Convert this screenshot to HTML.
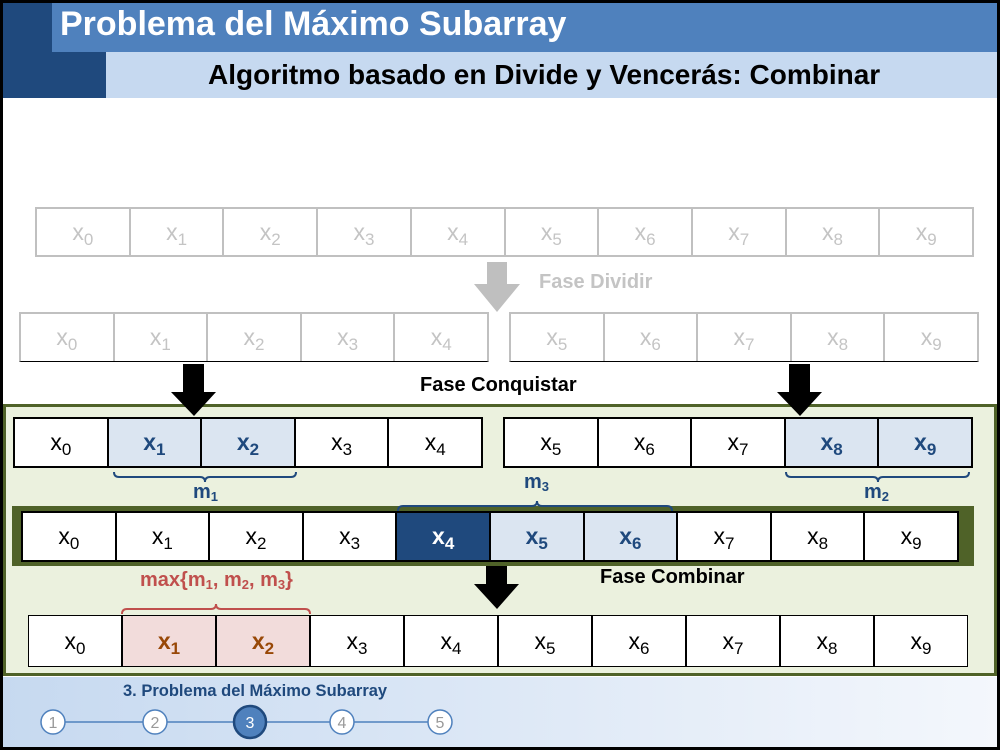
<!DOCTYPE html>
<html><head><meta charset="utf-8"><style>
*{margin:0;padding:0;box-sizing:border-box}
body{width:1000px;height:750px;position:relative;background:#fff;font-family:"Liberation Sans",sans-serif;overflow:hidden}
.a{position:absolute}
.row{position:absolute;display:flex}
.row div{flex:1;display:block;text-align:center;font-size:23px;border-right:1px solid #000;background:#fff;color:#000}
.row div:last-child{border-right:none}
.row sub{font-size:17px;vertical-align:-5px;line-height:0}
.g{border:2px solid #c0c0c0}
.g div{color:#c4c4c4;border-right:2px solid #c0c0c0}
.k{border:2px solid #000}
.k div{border-right:2px solid #000}
.lb{background:#dbe5f1!important;color:#1f497d!important;font-weight:bold}
.db{background:#1f497d!important;color:#fff!important;font-weight:bold}
.pk{background:#f2dcdb!important;color:#984807!important;font-weight:bold}
.lbl{position:absolute;font-weight:bold;font-size:20px;white-space:nowrap}
.lbl sub{font-size:13px;vertical-align:-3px;line-height:0}
</style></head><body>
<div class="a" style="left:0;top:0;width:1000px;height:750px;border:3px solid #000;z-index:10;pointer-events:none"></div>
<div class="a" style="left:0;top:0;width:106px;height:98px;background:#1f497d"></div>
<div class="a" style="left:52px;top:3px;width:948px;height:49px;background:#4f81bd"></div>
<div class="a" style="left:106px;top:52px;width:894px;height:46px;background:#c6d9f0"></div>
<div class="lbl" style="left:60px;top:5px;font-size:34px;color:#fff">Problema del Máximo Subarray</div>
<div class="lbl" style="left:208px;top:59px;font-size:28px;color:#000">Algoritmo basado en Divide y Vencerás: Combinar</div>

<div class="row g" style="left:35px;top:207px;width:939px;height:50px;line-height:46px">
<div>x<sub>0</sub></div><div>x<sub>1</sub></div><div>x<sub>2</sub></div><div>x<sub>3</sub></div><div>x<sub>4</sub></div><div>x<sub>5</sub></div><div>x<sub>6</sub></div><div>x<sub>7</sub></div><div>x<sub>8</sub></div><div>x<sub>9</sub></div></div>
<svg class="a" style="left:470px;top:262px" width="60" height="52"><polygon points="17,0 37,0 37,22 50,22 27,50 4,22 17,22" fill="#bfbfbf"/></svg>
<div class="lbl" style="left:539px;top:271px;color:#c4c4c4">Fase Dividir</div>
<div class="row g" style="left:19px;top:312px;width:470px;height:50px;border-bottom:1px solid #000;line-height:47px">
<div>x<sub>0</sub></div><div>x<sub>1</sub></div><div>x<sub>2</sub></div><div>x<sub>3</sub></div><div>x<sub>4</sub></div></div>
<div class="row g" style="left:509px;top:312px;width:470px;height:50px;border-bottom:1px solid #000;line-height:47px">
<div>x<sub>5</sub></div><div>x<sub>6</sub></div><div>x<sub>7</sub></div><div>x<sub>8</sub></div><div>x<sub>9</sub></div></div>
<div class="lbl" style="left:420px;top:374px;color:#000">Fase Conquistar</div>

<div class="a" style="left:3px;top:404px;width:994px;height:272px;background:#ebf1de;border:3px solid #4f6228"></div>
<svg class="a" style="left:168px;top:364px;z-index:2" width="52" height="54"><polygon points="15,0 36,0 36,28 48,28 26,52 3,28 15,28" fill="#000"/></svg>
<svg class="a" style="left:774px;top:364px;z-index:2" width="52" height="54"><polygon points="15,0 36,0 36,28 48,28 26,52 3,28 15,28" fill="#000"/></svg>

<div class="row k" style="left:13px;top:417px;width:470px;height:51px;line-height:47px">
<div>x<sub>0</sub></div><div class="lb">x<sub>1</sub></div><div class="lb">x<sub>2</sub></div><div>x<sub>3</sub></div><div>x<sub>4</sub></div></div>
<div class="row k" style="left:503px;top:417px;width:470px;height:51px;line-height:47px">
<div>x<sub>5</sub></div><div>x<sub>6</sub></div><div>x<sub>7</sub></div><div class="lb">x<sub>8</sub></div><div class="lb">x<sub>9</sub></div></div>

<div class="lbl" style="left:193px;top:481px;color:#1f497d">m<sub>1</sub></div>
<div class="lbl" style="left:864px;top:481px;color:#1f497d">m<sub>2</sub></div>
<div class="lbl" style="left:524px;top:471px;color:#1f497d">m<sub>3</sub></div>

<div class="a" style="left:12px;top:506px;width:962px;height:60px;background:#4f6228"></div>
<div class="row k" style="left:21px;top:511px;width:938px;height:51px;line-height:47px">
<div>x<sub>0</sub></div><div>x<sub>1</sub></div><div>x<sub>2</sub></div><div>x<sub>3</sub></div><div class="db">x<sub>4</sub></div><div class="lb">x<sub>5</sub></div><div class="lb">x<sub>6</sub></div><div>x<sub>7</sub></div><div>x<sub>8</sub></div><div>x<sub>9</sub></div></div>
<svg class="a" style="left:471px;top:566px" width="52" height="46"><polygon points="15,0 36,0 36,18 48,18 26,43 3,18 15,18" fill="#000"/></svg>
<div class="lbl" style="left:600px;top:566px;color:#000">Fase Combinar</div>
<div class="lbl" style="left:140px;top:569px;color:#c0504d">max{m<sub>1</sub>, m<sub>2</sub>, m<sub>3</sub>}</div>

<div class="row k" style="left:28px;top:615px;width:940px;height:52px;border-width:1px;line-height:50px">
<div>x<sub>0</sub></div><div class="pk">x<sub>1</sub></div><div class="pk">x<sub>2</sub></div><div>x<sub>3</sub></div><div>x<sub>4</sub></div><div>x<sub>5</sub></div><div>x<sub>6</sub></div><div>x<sub>7</sub></div><div>x<sub>8</sub></div><div>x<sub>9</sub></div></div>

<svg class="a" style="left:0;top:0;z-index:5" width="1000" height="750">
<path d="M114,472 q0,5 5,5 H200 q5,0 5,5 q0,-5 5,-5 H291 q5,0 5,-5" fill="none" stroke="#1f497d" stroke-width="2"/>
<path d="M786,472 q0,5 5,5 H873 q5,0 5,5 q0,-5 5,-5 H964 q5,0 5,-5" fill="none" stroke="#1f497d" stroke-width="2"/>
<path d="M398,511 q0,-5 5,-5 H532 q5,0 5,-5 q0,5 5,5 H667 q5,0 5,5" fill="none" stroke="#1f497d" stroke-width="2"/>
<path d="M122,614 q0,-5 5,-5 H211 q5,0 5,-5 q0,5 5,5 H305 q5,0 5,5" fill="none" stroke="#c0504d" stroke-width="2"/>
</svg>

<div class="a" style="left:0;top:677px;width:1000px;height:73px;background:linear-gradient(90deg,#c6d9f0,#f4f7fc)"></div>
<div class="lbl" style="left:123px;top:682px;font-size:16.5px;color:#1f497d">3. Problema del Máximo Subarray</div>
<svg class="a" style="left:0;top:700px" width="500" height="45">
<line x1="53" y1="22" x2="440" y2="22" stroke="#4f81bd" stroke-width="1.5"/>
<g fill="#fff" stroke="#4f81bd" stroke-width="1.5"><circle cx="53" cy="22" r="12"/><circle cx="155" cy="22" r="12"/><circle cx="342" cy="22" r="12"/><circle cx="440" cy="22" r="12"/></g>
<circle cx="250" cy="22" r="16" fill="#4f81bd" stroke="#1f497d" stroke-width="2.5"/>
<g font-family="Liberation Sans,sans-serif" font-size="16" text-anchor="middle" fill="#999"><text x="53" y="28">1</text><text x="155" y="28">2</text><text x="342" y="28">4</text><text x="440" y="28">5</text><text x="250" y="28" fill="#fff">3</text></g>
</svg>
</body></html>
